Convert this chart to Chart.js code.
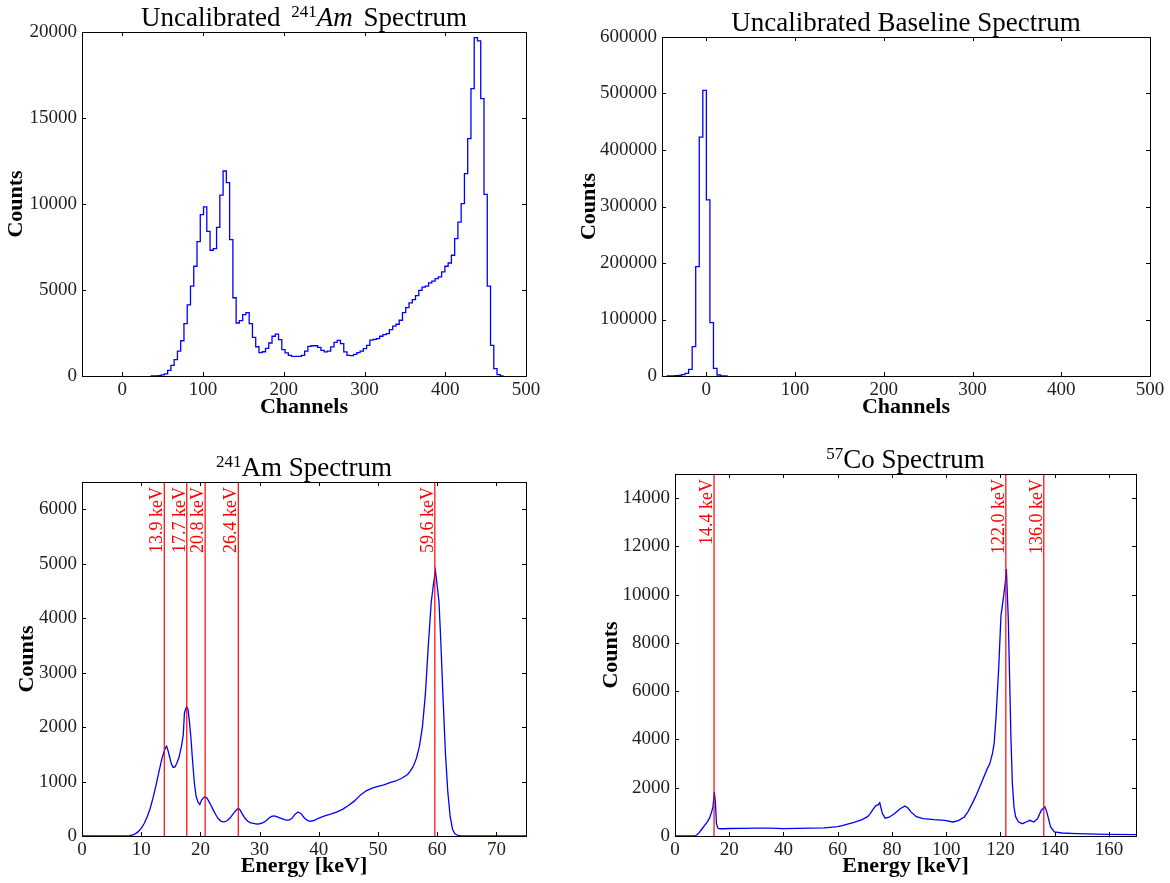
<!DOCTYPE html>
<html>
<head>
<meta charset="utf-8">
<script src="https://cdn.jsdelivr.net/npm/chart.js@4.4.0/dist/chart.umd.min.js"></script>
<style>
html,body{margin:0;padding:0;background:#fff;}
#wrap{position:relative;width:1170px;height:883px;overflow:hidden;background:#fff;}
.box{position:absolute;}
</style>
</head>
<body>
<div id="wrap">
  <div class="box" style="left:0px;top:0px;width:560px;height:430px"><canvas id="c1"></canvas></div>
  <div class="box" style="left:576px;top:0px;width:594px;height:430px"><canvas id="c2"></canvas></div>
  <div class="box" style="left:0px;top:440px;width:560px;height:443px"><canvas id="c3"></canvas></div>
  <div class="box" style="left:580px;top:440px;width:590px;height:443px"><canvas id="c4"></canvas></div>
</div>
<script>
// ---------------- data ----------------
const amUncalBinStart = 35.9;
const amUncalBinWidth = 4.04;
const amUncalCounts = [5,10,20,60,120,330,620,950,1450,2050,
  3040,4130,5230,6380,7810,9380,9830,8410,7310,7400,
  8640,10520,11920,11240,7930,4550,3080,3220,3570,3680,
  3040,2250,1700,1360,1410,1610,1920,2310,2440,2110,
  1530,1340,1200,1140,1140,1140,1200,1450,1720,1760,
  1760,1670,1490,1400,1450,1690,1960,2070,1880,1400,
  1200,1180,1260,1360,1450,1590,1780,2080,2130,2170,
  2310,2410,2460,2700,2900,3010,3240,3680,3970,4250,
  4440,4670,4980,5170,5230,5410,5520,5660,5760,6050,
  6380,6570,7020,7990,8950,10020,11770,13800,16710,19670,
  19480,16130,10560,5230,1780,430,80,0];

const baseBinStart = -44;
const baseBinWidth = 4;
const baseCounts = [100,300,600,1200,2400,4700,11800,52000,193700,422800,505500,311800,94500,13600,1800,300,0];

const amEnergy = [0,7.5,8,8.5,9,9.5,10,10.5,11,11.5,12,12.5,13,13.5,13.9,14.1,14.3,14.5,14.8,15.1,15.4,15.7,16,16.4,16.8,17.1,17.3,17.5,17.7,17.9,18.1,18.4,18.7,19,19.3,19.6,19.9,20.2,20.5,20.8,21.1,21.4,21.8,22.2,22.6,23,23.5,24,24.5,25,25.5,26,26.4,26.7,27,27.5,28,28.5,29,29.5,30,30.5,31,31.5,32,32.5,33,33.5,34,34.5,35,35.5,36,36.5,37,37.5,38,38.5,39,39.5,40,41,42,43,44,45,46,47,48,49,50,51,52,53,54,55,55.5,56,56.5,57,57.5,58,58.5,59,59.4,59.7,60,60.3,60.6,61,61.4,61.8,62.2,62.6,63,63.5,64,75];
const amCounts = [0,0,5,15,40,80,140,230,350,500,700,930,1180,1420,1560,1620,1650,1580,1450,1320,1260,1270,1330,1450,1650,1850,2250,2330,2370,2330,2150,1800,1350,950,720,620,580,660,700,720,700,640,560,470,390,320,270,260,280,330,400,470,510,480,420,330,270,240,230,220,225,240,270,320,360,370,350,330,310,290,290,330,400,440,410,340,290,270,280,300,330,370,400,440,490,560,640,750,830,880,910,940,980,1010,1060,1130,1200,1290,1430,1650,2000,2600,3500,4300,4650,4870,4600,4300,3600,2500,1500,800,350,120,40,10,0,0];

const coEnergy = [0,7.4,8,9,10,11,12,12.8,13.5,14,14.5,14.9,15.3,15.8,16.5,18,20,25,30,35,40,45,50,55,60,62,66,69,71,72,73,74,75,75.5,76,76.5,77.5,79,81,83,84.8,86,87,89,91.5,95.5,99.5,102.5,104.5,106.7,108,109.4,110.8,112.9,115,116.1,117.1,117.7,118.4,119.4,120.2,121.2,121.8,122.2,122.9,123.4,123.9,124.4,125,125.6,126.7,128.1,129.5,130.9,132.3,133.7,135.1,136.4,137.1,138.5,139.9,142.7,148.2,159.3,170];
const coCounts = [0,0,40,150,300,450,600,760,1000,1200,1830,1400,500,330,300,300,310,320,330,330,305,315,330,340,390,440,560,680,800,930,1100,1250,1300,1380,1150,930,740,780,930,1130,1240,1150,1000,800,720,680,650,580,640,790,1000,1300,1620,2180,2750,3000,3430,3850,4950,7030,9120,9950,10500,11060,9000,6500,4000,2200,1200,800,580,510,580,650,580,720,1070,1210,1000,375,170,125,100,70,55];

const amLinesKeV = [13.9, 17.7, 20.8, 26.4, 59.6];
const coLinesKeV = [14.4, 122.0, 136.0];

const channelTicks = [0,100,200,300,400,500];
const amUncalYTicks = [0,5000,10000,15000,20000];
const baseYTicks = [0,100000,200000,300000,400000,500000,600000];
const amXTicks = [0,10,20,30,40,50,60,70];
const amYTicks = [0,1000,2000,3000,4000,5000,6000];
const coXTicks = [0,20,40,60,80,100,120,140,160];
const coYTicks = [0,2000,4000,6000,8000,10000,12000,14000];

// ---------------- helpers ----------------
const SERIF = "'Liberation Serif','Times New Roman',serif";

function histPoints(start, width, counts) {
  const pts = [{x: start, y: 0}];
  counts.forEach((c, i) => pts.push({x: start + i * width, y: c}));
  pts.push({x: start + counts.length * width, y: 0});
  return pts;
}
function linePoints(xs, ys) { return xs.map((x, i) => ({x: x, y: ys[i]})); }

const framePlugin = {
  id: 'frame',
  afterDatasetsDraw(chart, args, opts) {
    const ctx = chart.ctx, a = chart.chartArea;
    const xs = chart.scales.x, ys = chart.scales.y;
    ctx.save();
    if (opts.lines) {
      ctx.strokeStyle = '#ff0000';
      ctx.lineWidth = 1.2;
      ctx.fillStyle = '#ff0000';
      ctx.font = '18px ' + SERIF;
      opts.lines.forEach(v => {
        const px = xs.getPixelForValue(v);
        ctx.beginPath();
        ctx.moveTo(px, a.top);
        ctx.lineTo(px, a.bottom);
        ctx.stroke();
        ctx.save();
        ctx.translate(px - 2, a.top + 5);
        ctx.rotate(-Math.PI / 2);
        ctx.textAlign = 'right';
        ctx.textBaseline = 'alphabetic';
        ctx.fillText(v.toFixed(1) + ' keV', 0, 0);
        ctx.restore();
      });
    }
    ctx.strokeStyle = '#000';
    ctx.lineWidth = 1;
    const tl = 4;
    ctx.beginPath();
    xs.ticks.forEach(t => {
      const px = Math.round(xs.getPixelForValue(t.value)) + 0.5;
      ctx.moveTo(px, a.bottom); ctx.lineTo(px, a.bottom - tl);
      ctx.moveTo(px, a.top); ctx.lineTo(px, a.top + tl);
    });
    ys.ticks.forEach(t => {
      const py = Math.round(ys.getPixelForValue(t.value)) + 0.5;
      ctx.moveTo(a.left, py); ctx.lineTo(a.left + tl, py);
      ctx.moveTo(a.right, py); ctx.lineTo(a.right - tl, py);
    });
    ctx.stroke();
    ctx.lineWidth = 1;
    ctx.strokeStyle = '#000';
    ctx.strokeRect(Math.round(a.left) + 0.5, Math.round(a.top) + 0.5,
                   Math.round(a.right) - Math.round(a.left), Math.round(a.bottom) - Math.round(a.top));
    ctx.restore();
  },
  afterDraw(chart, args, opts) {
    if (!opts.title) return;
    const ctx = chart.ctx, a = chart.chartArea;
    ctx.save();
    ctx.fillStyle = '#000';
    ctx.textBaseline = 'alphabetic';
    ctx.textAlign = 'left';
    let total = 0;
    opts.title.forEach(p => { ctx.font = p.font; total += ctx.measureText(p.text).width + (p.gap || 0); });
    let x = (a.left + a.right) / 2 - total / 2;
    const base = a.top - 6;
    opts.title.forEach(p => {
      ctx.font = p.font;
      ctx.fillText(p.text, x, base - (p.raise || 0));
      x += ctx.measureText(p.text).width + (p.gap || 0);
    });
    ctx.restore();
  }
};

const T_FONT = '27px ' + SERIF;
const T_SUP = '17px ' + SERIF;

function makeChart(id, cfg) {
  const tickFont = {family: SERIF, size: 19};
  const axisTitleFont = {family: SERIF, size: 22, weight: 'bold', lineHeight: 1};
  return new Chart(document.getElementById(id), {
    type: 'line',
    data: {
      datasets: [{
        data: cfg.points,
        borderColor: '#0000ff',
        borderWidth: 1.3,
        pointRadius: 0,
        fill: false,
        tension: 0,
        stepped: cfg.stepped || false
      }]
    },
    options: {
      responsive: true,
      maintainAspectRatio: false,
      animation: false,
      events: [],
      layout: {padding: cfg.padding},
      plugins: {
        legend: {display: false},
        tooltip: {enabled: false},
        title: {display: false},
        frame: {lines: cfg.lines || null, title: cfg.title}
      },
      scales: {
        x: {
          type: 'linear',
          min: cfg.xMin, max: cfg.xMax,
          afterBuildTicks: s => { s.ticks = cfg.xTicks.map(v => ({value: v})); },
          afterFit: s => { s.height = cfg.xH; },
          grid: {display: false, drawTicks: false, tickLength: 0},
          border: {display: false},
          ticks: {font: tickFont, color: '#222', padding: 3, maxRotation: 0, autoSkip: false,
                  callback: v => String(v)},
          title: {display: true, text: cfg.xTitle, font: axisTitleFont, color: '#000',
                  padding: {top: 0, bottom: cfg.xTitlePad}}
        },
        y: {
          type: 'linear',
          min: cfg.yMin, max: cfg.yMax,
          afterBuildTicks: s => { s.ticks = cfg.yTicks.map(v => ({value: v})); },
          afterFit: s => { s.width = cfg.yW; },
          grid: {display: false, drawTicks: false, tickLength: 0},
          border: {display: false},
          ticks: {font: tickFont, color: '#222', padding: 5, autoSkip: false,
                  callback: v => String(v)},
          title: {display: true, text: 'Counts', font: axisTitleFont, color: '#000',
                  padding: {top: cfg.yTitlePad, bottom: 0}}
        }
      }
    },
    plugins: [framePlugin]
  });
}

makeChart('c1', {
  points: histPoints(amUncalBinStart, amUncalBinWidth, amUncalCounts),
  stepped: true,
  xMin: -50, xMax: 500, yMin: 0, yMax: 20000,
  xTicks: channelTicks, yTicks: amUncalYTicks,
  xTitle: 'Channels',
  padding: {top: 32, right: 34, left: 0, bottom: 0},
  yW: 82, xH: 54, xTitlePad: 12, yTitlePad: 5,
  title: [
    {text: 'Uncalibrated ', font: T_FONT, gap: 4},
    {text: '241', font: T_SUP, raise: 9},
    {text: 'Am', font: 'italic ' + T_FONT, gap: 4},
    {text: ' Spectrum', font: T_FONT}
  ]
});

makeChart('c2', {
  points: histPoints(baseBinStart, baseBinWidth, baseCounts),
  stepped: true,
  xMin: -50, xMax: 500, yMin: 0, yMax: 600000,
  xTicks: channelTicks, yTicks: baseYTicks,
  xTitle: 'Channels',
  padding: {top: 37, right: 20, left: 0, bottom: 0},
  yW: 86, xH: 54, xTitlePad: 12, yTitlePad: 2,
  title: [{text: 'Uncalibrated Baseline Spectrum', font: T_FONT}]
});

makeChart('c3', {
  points: linePoints(amEnergy, amCounts),
  xMin: 0, xMax: 75, yMin: 0, yMax: 6500,
  xTicks: amXTicks, yTicks: amYTicks,
  xTitle: 'Energy [keV]',
  lines: amLinesKeV,
  padding: {top: 42, right: 34, left: 0, bottom: 0},
  yW: 82, xH: 47, xTitlePad: 6, yTitlePad: 16,
  title: [
    {text: '241', font: T_SUP, raise: 9},
    {text: 'Am Spectrum', font: T_FONT}
  ]
});

makeChart('c4', {
  points: linePoints(coEnergy, coCounts),
  xMin: 0, xMax: 170, yMin: 0, yMax: 15000,
  xTicks: coXTicks, yTicks: coYTicks,
  xTitle: 'Energy [keV]',
  lines: coLinesKeV,
  padding: {top: 34, right: 34, left: 0, bottom: 0},
  yW: 95, xH: 47, xTitlePad: 6, yTitlePad: 20,
  title: [
    {text: '57', font: T_SUP, raise: 9},
    {text: 'Co Spectrum', font: T_FONT}
  ]
});
</script>
</body>
</html>
